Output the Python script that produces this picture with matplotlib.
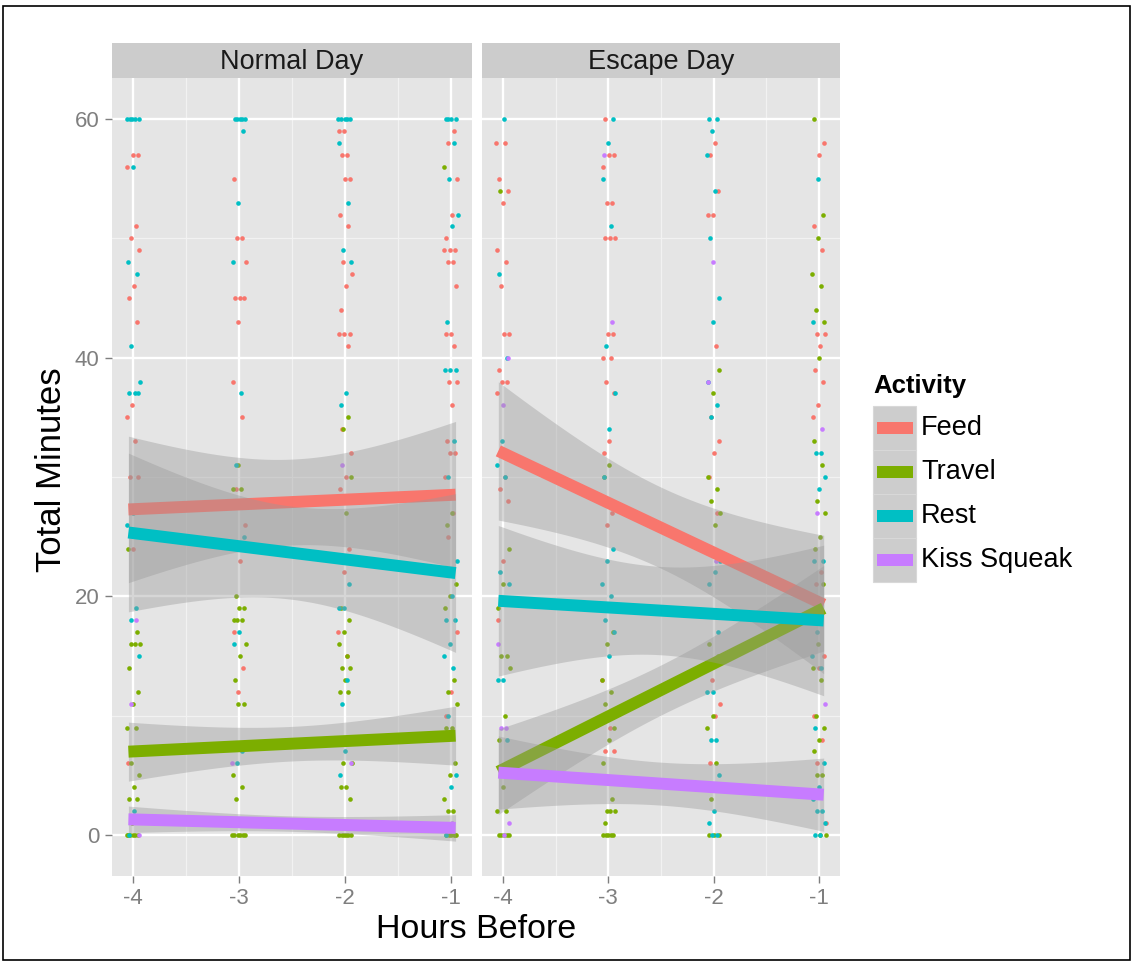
import matplotlib.pyplot as plt
import numpy as np
from matplotlib.patches import Rectangle

plt.rcParams["font.family"] = ["Liberation Sans", "DejaVu Sans"]

W, H = 1133, 964

panels = ["Normal Day", "Escape Day"]
activities = ["Feed", "Travel", "Rest", "Kiss Squeak"]
colors = ["#F8766D", "#7CAE00", "#00BFC4", "#C77CFF"]
hours = [-4, -3, -2, -1]

# fitted lm line at hour -4 and -1, plus CI half-width at the centre (-2.5)
normal_fit_start = [27.3, 7.0, 25.3, 1.3]
normal_fit_end = [28.5, 8.3, 22.0, 0.6]
normal_ci_mid = [3.6, 1.45, 3.9, 0.65]
escape_fit_start = [32.0, 5.5, 19.6, 5.2]
escape_fit_end = [19.5, 18.8, 18.0, 3.4]
escape_ci_mid = [3.4, 2.1, 3.7, 1.8]

# observed minutes per hour, one dict per activity
normal_feed = {
    -4: [57, 57, 56, 51, 50, 49, 46, 45, 43, 36, 35, 33, 30, 30, 24, 6],
    -3: [55, 50, 50, 48, 45, 45, 45, 43, 38, 35, 29, 26, 23, 17, 14, 12],
    -2: [59, 59, 57, 57, 55, 55, 52, 51, 48, 47, 46, 44, 42, 42, 42, 41, 34, 32, 30, 29, 24, 22, 17, 15],
    -1: [59, 58, 55, 52, 50, 49, 49, 49, 48, 48, 46, 42, 42, 41, 38, 38, 36, 33, 32, 32, 30, 27, 25, 17, 12, 10, 0],
}
normal_travel = {
    -4: [24, 17, 16, 16, 16, 14, 12, 11, 9, 9, 6, 5, 4, 3, 3, 1, 0, 0, 0, 0, 0, 0],
    -3: [31, 29, 29, 20, 19, 19, 18, 18, 18, 16, 15, 13, 11, 11, 5, 4, 3, 0, 0, 0, 0, 0, 0],
    -2: [35, 34, 30, 27, 19, 18, 17, 16, 15, 14, 14, 13, 12, 12, 6, 6, 4, 4, 3, 0, 0, 0, 0, 0, 0],
    -1: [56, 27, 26, 21, 20, 19, 13, 12, 11, 9, 9, 6, 5, 3, 2, 2, 0, 0, 0, 0, 0],
}
normal_rest = {
    -4: [60, 60, 60, 60, 60, 56, 48, 47, 41, 38, 37, 37, 37, 27, 26, 19, 18, 15, 2, 0],
    -3: [60, 60, 60, 60, 60, 59, 53, 48, 37, 31, 25, 17, 16, 7, 6],
    -2: [60, 60, 60, 60, 60, 58, 53, 49, 48, 37, 36, 21, 19, 19, 13, 11, 8, 7, 5],
    -1: [60, 60, 60, 60, 58, 55, 52, 51, 43, 39, 39, 39, 33, 30, 23, 20, 18, 18, 16, 15, 14, 10, 5, 4, 0],
}
normal_kiss = {
    -4: [18, 11, 0],
    -3: [6],
    -2: [31, 6],
    -1: [1],
}
escape_feed = {
    -4: [58, 58, 55, 54, 53, 49, 48, 46, 42, 42, 39, 38, 38, 37, 30, 29, 28, 23, 18],
    -3: [60, 57, 57, 56, 53, 53, 50, 50, 50, 42, 42, 40, 40, 38, 37, 33, 32, 27, 26, 13, 9, 7, 7],
    -2: [58, 57, 54, 52, 52, 41, 35, 33, 32, 30, 27, 13, 11, 10, 6],
    -1: [58, 57, 51, 49, 42, 42, 41, 39, 38, 36, 35, 22, 21, 15, 14, 10, 8, 6, 1],
}
escape_travel = {
    -4: [54, 24, 21, 19, 15, 15, 14, 10, 8, 6, 4, 2, 2, 0, 0, 0, 0, 0],
    -3: [31, 30, 17, 16, 13, 12, 11, 9, 8, 6, 3, 2, 2, 2, 1, 0, 0, 0, 0, 0],
    -2: [39, 37, 30, 29, 28, 27, 26, 16, 15, 10, 9, 6, 3, 0, 0, 0],
    -1: [60, 52, 50, 47, 46, 44, 43, 40, 33, 31, 28, 27, 25, 24, 21, 16, 14, 13, 10, 9, 8, 7, 5, 5, 0, 0],
}
escape_rest = {
    -4: [60, 47, 40, 33, 31, 30, 22, 21, 13, 13, 8],
    -3: [60, 58, 55, 51, 41, 37, 34, 30, 24, 23, 21, 20, 18, 17, 15],
    -2: [60, 60, 59, 57, 54, 50, 45, 43, 38, 36, 35, 23, 22, 21, 17, 12, 12, 8, 8, 5, 2, 1, 0, 0],
    -1: [55, 43, 32, 32, 30, 29, 23, 23, 17, 15, 14, 9, 6, 4, 3, 2, 2, 1, 0, 0],
}
escape_kiss = {
    -4: [40, 36, 16, 9, 9, 1, 0],
    -3: [57, 43],
    -2: [48, 38, 23],
    -1: [34, 27, 11],
}

panel_points = [
    [normal_feed, normal_travel, normal_rest, normal_kiss],
    [escape_feed, escape_travel, escape_rest, escape_kiss],
]
panel_fits = [
    (normal_fit_start, normal_fit_end, normal_ci_mid),
    (escape_fit_start, escape_fit_end, escape_ci_mid),
]

PANEL_BG = "#E5E5E5"
STRIP_BG = "#CCCCCC"
GREY50 = "#7F7F7F"


def px_axes(fig, x0, y0, x1, y1):
    return fig.add_axes([x0 / W, 1 - y1 / H, (x1 - x0) / W, (y1 - y0) / H])


def jitter(n, k):
    # deterministic horizontal spread so stacked values stay visible
    return ((np.arange(n) * 0.618 + k * 0.29) % 1.0 - 0.5) * 0.13


fig = plt.figure(figsize=(W / 100, H / 100), dpi=100)

panel_px = [(112, 472), (482, 840)]
for p, (x0, x1) in enumerate(panel_px):
    ax = px_axes(fig, x0, 78, x1, 876)
    ax.set_facecolor(PANEL_BG)
    ax.set_xlim(-4.2, -0.8)
    ax.set_ylim(-3.44, 63.44)
    for s in ax.spines.values():
        s.set_visible(False)

    # grid
    for v in [-3.5, -2.5, -1.5]:
        ax.axvline(v, color="#F2F2F2", lw=0.9, zorder=0)
    for v in [10, 30, 50]:
        ax.axhline(v, color="#F2F2F2", lw=0.9, zorder=0)
    for v in hours:
        ax.axvline(v, color="white", lw=1.7, zorder=0)
    for v in [0, 20, 40, 60]:
        ax.axhline(v, color="white", lw=1.7, zorder=0)

    # jittered observations
    for a, pts in enumerate(panel_points[p]):
        for h in hours:
            ys = np.array(pts[h], dtype=float)
            xs = h + jitter(len(ys), a + 4 * p + h)
            ax.scatter(xs, ys, s=11, color=colors[a], linewidths=0, zorder=1)

    # lm fits with 95% band, drawn group by group like geom_smooth
    start, end, ci_mid = panel_fits[p]
    xx = np.linspace(-4.045, -0.955, 100)
    for a in range(len(activities)):
        slope = (end[a] - start[a]) / 3.0
        yy = start[a] + slope * (xx + 4)
        half = ci_mid[a] * np.sqrt(1 + (xx + 2.5) ** 2 / 1.25)
        ax.fill_between(xx, yy - half, yy + half, color="#999999", alpha=0.4,
                        linewidth=0, zorder=2 + 2 * a)
        ax.plot(xx, yy, color=colors[a], lw=8.6, solid_capstyle="butt",
                zorder=3 + 2 * a)

    ax.set_xticks(hours)
    ax.set_xticklabels([str(h) for h in hours])
    ax.set_yticks([0, 20, 40, 60])
    ax.tick_params(colors=GREY50, labelcolor=GREY50, labelsize=16, length=5,
                   width=1, pad=4)
    if p == 1:
        ax.tick_params(axis="y", left=False, labelleft=False)

    strip = px_axes(fig, x0, 43, x1, 78)
    strip.set_facecolor(STRIP_BG)
    strip.set_xticks([])
    strip.set_yticks([])
    for s in strip.spines.values():
        s.set_visible(False)
    strip.text(0.5, 0.47, panels[p], ha="center", va="center", fontsize=19.5,
               color="#1A1A1A", transform=strip.transAxes)

fig.text(476 / W, 1 - 929 / H, "Hours Before", ha="center", va="center",
         fontsize=24.5, color="black")
fig.text(52 / W, 1 - 470 / H, "Total Minutes", ha="center", va="center",
         fontsize=25, rotation=90, color="black")

# overlay in pixel units for the legend and outer frame
ov = fig.add_axes([0, 0, 1, 1], facecolor="none")
ov.set_xlim(0, W)
ov.set_ylim(H, 0)
ov.axis("off")
ov.add_patch(Rectangle((3, 6), W - 6, H - 10, fill=False, edgecolor="black", lw=1.2))

ov.text(873, 386, "Activity", fontsize=18.5, fontweight="bold", ha="left",
        va="center")
key_top, key_h = 406, 44
for i, name in enumerate(activities):
    y = key_top + i * key_h
    ov.add_patch(Rectangle((873, y), 43, key_h, facecolor="#CDCDCD",
                           edgecolor="#D8D8D8", lw=0.8))
    ov.add_patch(Rectangle((877, y + key_h / 2 - 6), 36, 12, facecolor=colors[i],
                           edgecolor="none"))
    ov.text(921, y + key_h / 2, name, fontsize=19.5, ha="left", va="center")

fig.savefig("out.png", dpi=100)
